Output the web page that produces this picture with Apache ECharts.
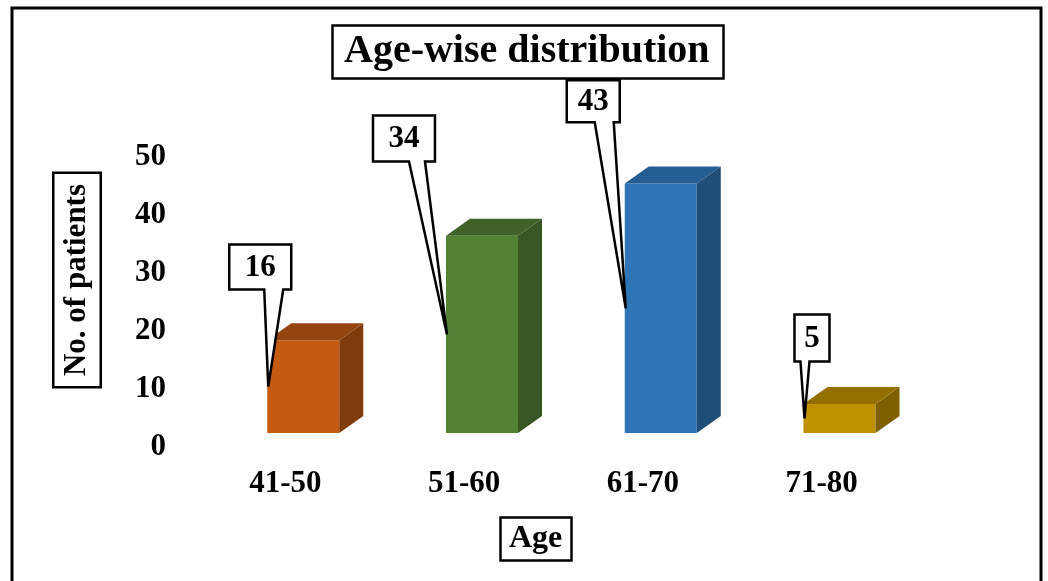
<!DOCTYPE html>
<html>
<head>
<meta charset="utf-8">
<script src="https://cdn.jsdelivr.net/npm/echarts@6/dist/echarts.min.js"></script>
<style>
  html, body { margin: 0; padding: 0; background: #ffffff; }
  #chart { width: 1048px; height: 581px; }
</style>
</head>
<body>
<div id="chart"></div>
<script>
// Age groups and number of patients in each
const ageGroups = ['41-50', '51-60', '61-70', '71-80'];
const patientCounts = [16, 34, 43, 5];

// Face colours of each box: front, top, side
const frontColors = ['#C55A11', '#548235', '#2E75B6', '#BF9000'];
const topColors = ['#93440F', '#3E6228', '#255E93', '#937000'];
const sideColors = ['#7F3B0C', '#375623', '#1F4E79', '#7F6000'];

// Callout box placement relative to the pointer tip:
// [left, right, top, bottom, wedgeFrom, wedgeTo]
const calloutLayout = [
  [-39, 23, -142, -97, -4, 15],
  [-74, -12, -219, -173, -38, -22],
  [-59, -6, -228, -186, -31, -12],
  [-10, 25, -104, -57, -4, 5]
];

const SERIF = '"Liberation Serif", "Times New Roman", serif';
const DEPTH_X = 24;   // horizontal depth of the boxes
const DEPTH_Y = 17;   // vertical depth of the boxes
const FLOOR = 14;     // lift of the front faces above the axis baseline

const chart = echarts.init(document.getElementById('chart'), null, { renderer: 'canvas' });

function renderBox(params, api) {
  const i = api.value(0);
  const v = api.value(1);
  const band = api.size([1, 0])[0];
  const w = band * 0.403;
  const base = api.coord([i, 0]);
  const top = api.coord([i, v]);
  const mid = api.coord([i, v / 2]);
  const x0 = base[0] + band * 0.1 - w / 2;
  const x1 = x0 + w;
  const yB = base[1] - FLOOR;
  const yT = top[1] - FLOOR;

  const children = [
    {
      type: 'rect',
      shape: { x: x0, y: yT, width: w, height: yB - yT },
      style: { fill: frontColors[i] }
    },
    {
      type: 'polygon',
      shape: { points: [[x1, yT], [x1 + DEPTH_X, yT - DEPTH_Y], [x1 + DEPTH_X, yB - DEPTH_Y], [x1, yB]] },
      style: { fill: sideColors[i] }
    },
    {
      type: 'polygon',
      shape: { points: [[x0, yT], [x0 + DEPTH_X, yT - DEPTH_Y], [x1 + DEPTH_X, yT - DEPTH_Y], [x1, yT]] },
      style: { fill: topColors[i] }
    }
  ];

  // Value callout pointing at the middle of the front face
  const tx = x0 + 1;
  const ty = mid[1] - FLOOR;
  const c = calloutLayout[i];
  const L = tx + c[0], R = tx + c[1], T = ty + c[2], B = ty + c[3];
  children.push({
    type: 'polygon',
    shape: {
      points: [[L, T], [R, T], [R, B], [tx + c[5], B], [tx, ty], [tx + c[4], B], [L, B]]
    },
    style: { fill: '#ffffff', stroke: '#000000', lineWidth: 2.5, lineJoin: 'miter' }
  });
  children.push({
    type: 'text',
    style: {
      x: (L + R) / 2,
      y: (T + B) / 2 + 1,
      text: String(v),
      align: 'center',
      verticalAlign: 'middle',
      fill: '#000000',
      font: 'bold 31px ' + SERIF
    }
  });

  return { type: 'group', children: children };
}

const option = {
  backgroundColor: '#ffffff',
  animation: false,
  title: [
    {
      text: 'Age-wise distribution',
      left: 332,
      top: 25,
      padding: [7, 14, 7, 12],
      borderColor: '#000000',
      borderWidth: 2.5,
      backgroundColor: '#ffffff',
      textStyle: { fontFamily: SERIF, fontWeight: 'bold', fontSize: 40, color: '#000000' }
    },
    {
      text: 'Age',
      left: 500,
      top: 517,
      padding: [6, 9, 6, 9],
      borderColor: '#000000',
      borderWidth: 2.5,
      backgroundColor: '#ffffff',
      textStyle: { fontFamily: SERIF, fontWeight: 'bold', fontSize: 32, color: '#000000' }
    }
  ],
  graphic: [
    {
      // vertical axis title
      type: 'text',
      x: 77,
      y: 280,
      rotation: Math.PI / 2,
      style: {
        text: 'No. of patients',
        font: 'bold 31px ' + SERIF,
        fill: '#000000',
        align: 'center',
        verticalAlign: 'middle',
        backgroundColor: '#ffffff',
        borderColor: '#000000',
        borderWidth: 2.5,
        padding: [7, 10, 7, 10]
      },
      z: 50
    },
    {
      // frame round the whole figure
      type: 'rect',
      shape: { x: 12, y: 8, width: 1029, height: 600 },
      style: { fill: 'none', stroke: '#000000', lineWidth: 3 },
      z: 100
    }
  ],
  grid: { left: 196, right: 137, top: 157, bottom: 134 },
  xAxis: {
    type: 'category',
    data: ageGroups,
    axisLine: { show: false },
    axisTick: { show: false },
    axisLabel: {
      margin: 21,
      fontFamily: SERIF,
      fontWeight: 'bold',
      fontSize: 31,
      color: '#000000'
    }
  },
  yAxis: {
    type: 'value',
    min: 0,
    max: 50,
    interval: 10,
    axisLine: { show: false },
    axisTick: { show: false },
    splitLine: { show: false },
    axisLabel: {
      margin: 30,
      fontFamily: SERIF,
      fontWeight: 'bold',
      fontSize: 31,
      color: '#000000'
    }
  },
  series: [
    {
      type: 'custom',
      renderItem: renderBox,
      clip: false,
      encode: { x: 0, y: 1 },
      data: patientCounts.map(function (v, i) { return [i, v]; })
    }
  ]
};

chart.setOption(option);
</script>
</body>
</html>
